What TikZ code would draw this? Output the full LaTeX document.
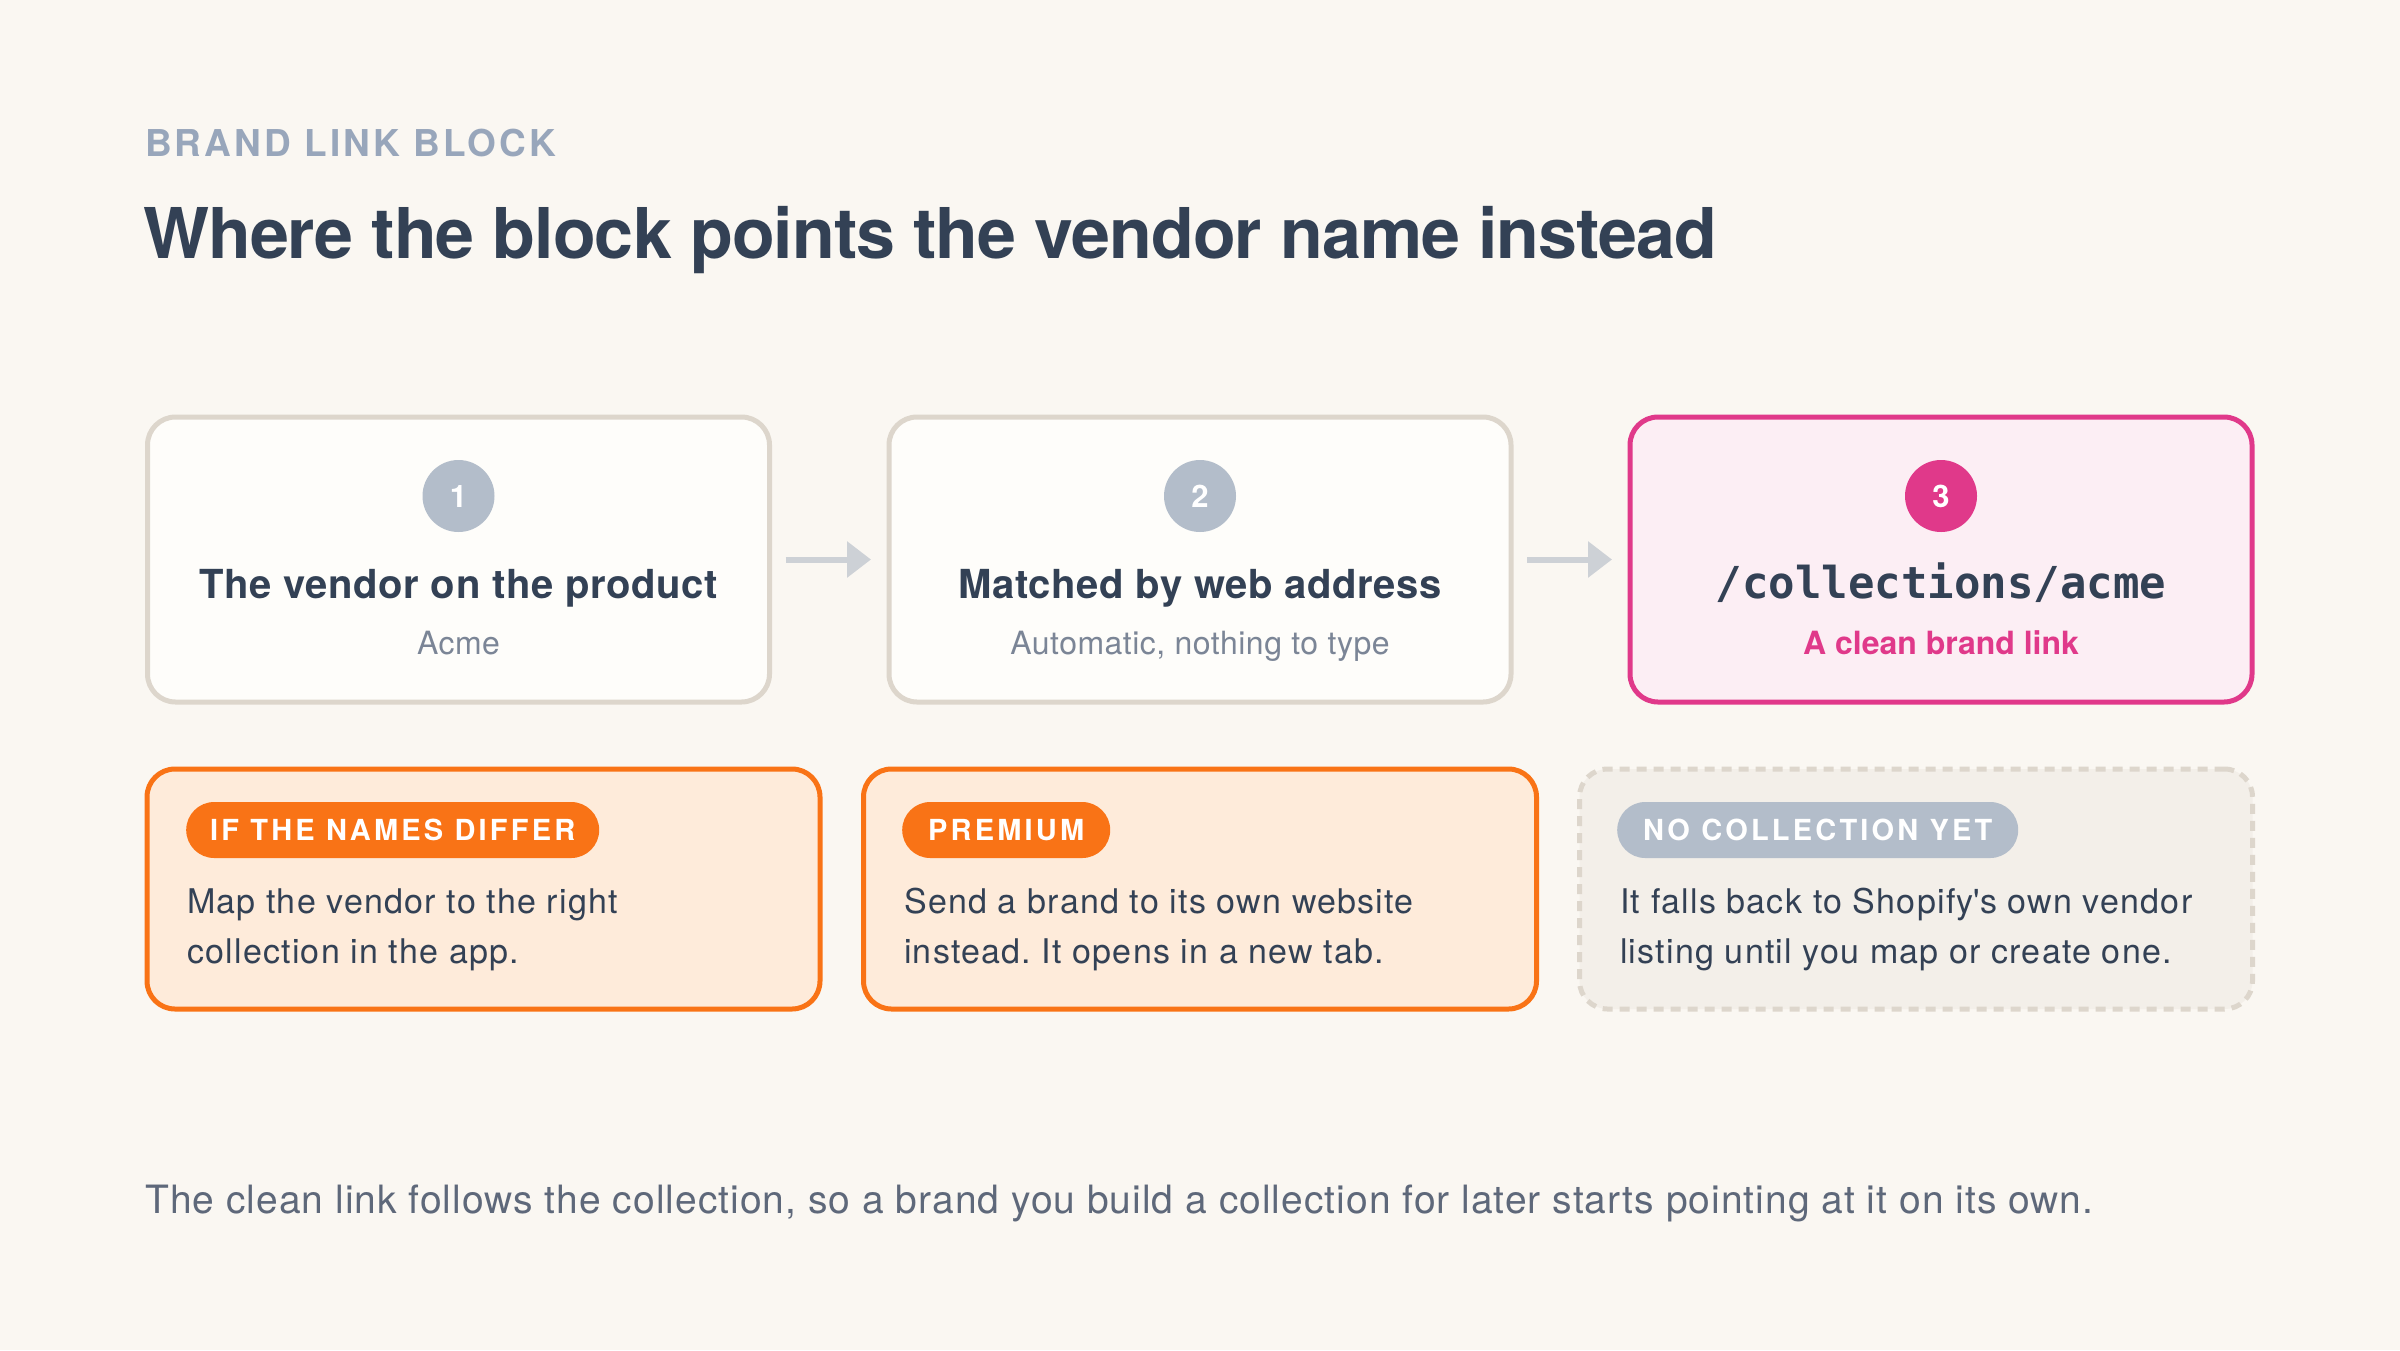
\documentclass[tikz,border=0pt]{standalone}
\usepackage{fontspec}
\setmainfont{TeX Gyre Heros}
\newfontfamily\monof{DejaVu Sans Mono}
\usetikzlibrary{arrows.meta}
\frenchspacing
\definecolor{bg}{HTML}{FAF7F2}
\definecolor{ink}{HTML}{334155}
\definecolor{eyebrow}{HTML}{98A6BB}
\definecolor{muted}{HTML}{7B8596}
\definecolor{cardfill}{HTML}{FEFDFA}
\definecolor{cardline}{HTML}{DDD6CC}
\definecolor{stepgray}{HTML}{B3BDCA}
\definecolor{pink}{HTML}{E0398A}
\definecolor{pinkfill}{HTML}{FCEEF4}
\definecolor{orange}{HTML}{F97316}
\definecolor{orangefill}{HTML}{FEEBDA}
\definecolor{nofill}{HTML}{F3EFE9}
\definecolor{arrowgray}{HTML}{CDD1D6}
\definecolor{foot}{HTML}{5E687A}
\begin{document}
\begin{tikzpicture}[x=1pt,y=-1pt,
  card/.style={draw=cardline, fill=cardfill, line width=5pt, rounded corners=28pt,
    minimum width=622pt, minimum height=285pt, inner sep=0pt},
  pinkcard/.style={card, draw=pink, fill=pinkfill},
  note/.style={draw=orange, fill=orangefill, line width=5pt, rounded corners=28pt,
    minimum width=673pt, minimum height=240pt, inner sep=0pt},
  dashnote/.style={note, draw=cardline, fill=nofill, dash pattern=on 10pt off 7pt},
  stepdot/.style={circle, fill=stepgray, minimum size=72pt, inner sep=0pt, text=white,
    font=\fontsize{31}{31}\selectfont\bfseries},
  badge/.style={fill=orange, rounded corners=28pt, minimum height=56pt, inner sep=0pt,
    anchor=west, text=white, font=\fontsize{29}{29}\selectfont\bfseries\addfontfeature{LetterSpace=11}},
  txt/.style={inner sep=0pt, anchor=base west},
  ctxt/.style={inner sep=0pt, anchor=base},
  steptitle/.style={ctxt, text=ink, font=\fontsize{40}{40}\selectfont\bfseries\addfontfeature{LetterSpace=1.5}},
  stepsub/.style={ctxt, text=muted, font=\fontsize{32}{32}\selectfont\addfontfeature{LetterSpace=1.5}},
  body/.style={txt, text=ink, font=\fontsize{34}{34}\selectfont\addfontfeature{LetterSpace=3.6}},
  arr/.style={draw=arrowgray, line width=6pt, -{Triangle[length=24pt,width=35pt]},
    shorten <=13.5pt, shorten >=15.5pt}
]
\useasboundingbox (0,0) rectangle (2400,1350);
\fill[bg] (0,0) rectangle (2400,1350);

\node[txt, text=eyebrow, font=\fontsize{37}{37}\selectfont\bfseries\addfontfeature{LetterSpace=8.3}] (eyebrow) at (145,156) {BRAND LINK BLOCK};
\node[txt, text=ink, font=\fontsize{70}{70}\selectfont\bfseries\addfontfeature{LetterSpace=-1.5}] (title) at (143,258) {Where the block points the vendor name instead};

% step cards
\node[card] (b1) at (458.5,559.5) {};
\node[card] (b2) at (1200,559.5) {};
\node[pinkcard] (b3) at (1941,559.5) {};

\node[stepdot] (c1) at (458.5,496) {1};
\node[stepdot] (c2) at (1200,496) {2};
\node[stepdot, fill=pink] (c3) at (1941,496) {3};

\node[steptitle] (t1) at (458.5,598) {The vendor on the product};
\node[stepsub] (s1) at (458.5,654) {Acme};
\node[steptitle] (t2) at (1200,598) {Matched by web address};
\node[stepsub] (s2) at (1200,654) {Automatic, nothing to type};
\node[ctxt, text=ink, font=\fontsize{44}{44}\selectfont\monof\bfseries] (t3) at (1941,598) {/collections/acme};
\node[stepsub, text=pink, font=\fontsize{32}{32}\selectfont\bfseries] (s3) at (1941,654) {A clean brand link};

\draw[arr] (b1) -- (b2);
\draw[arr] (b2) -- (b3);

% notes
\node[note] (n1) at (483.5,889) {};
\node[note] (n2) at (1200,889) {};
\node[dashnote] (n3) at (1916,889) {};

\node[badge, minimum width=413pt] (g1) at (186,830) {IF THE NAMES DIFFER};
\node[badge, minimum width=208pt] (g2) at (902,830) {PREMIUM};
\node[badge, minimum width=401pt, fill=stepgray] (g3) at (1617,830) {NO COLLECTION YET};

\node[body] (p1a) at (187,913) {Map the vendor to the right};
\node[body] (p1b) at (187,963) {collection in the app.};
\node[body] (p2a) at (904,913) {Send a brand to its own website};
\node[body] (p2b) at (904,963) {instead. It opens in a new tab.};
\node[body] (p3a) at (1620,913) {It falls back to Shopify\textquotesingle s own vendor};
\node[body] (p3b) at (1620,963) {listing until you map or create one.};

\node[txt, text=foot, font=\fontsize{39}{39}\selectfont\addfontfeature{LetterSpace=2.6}] (foot) at (145,1213) {The clean link follows the collection, so a brand you build a collection for later starts pointing at it on its own.};
\end{tikzpicture}
\end{document}
